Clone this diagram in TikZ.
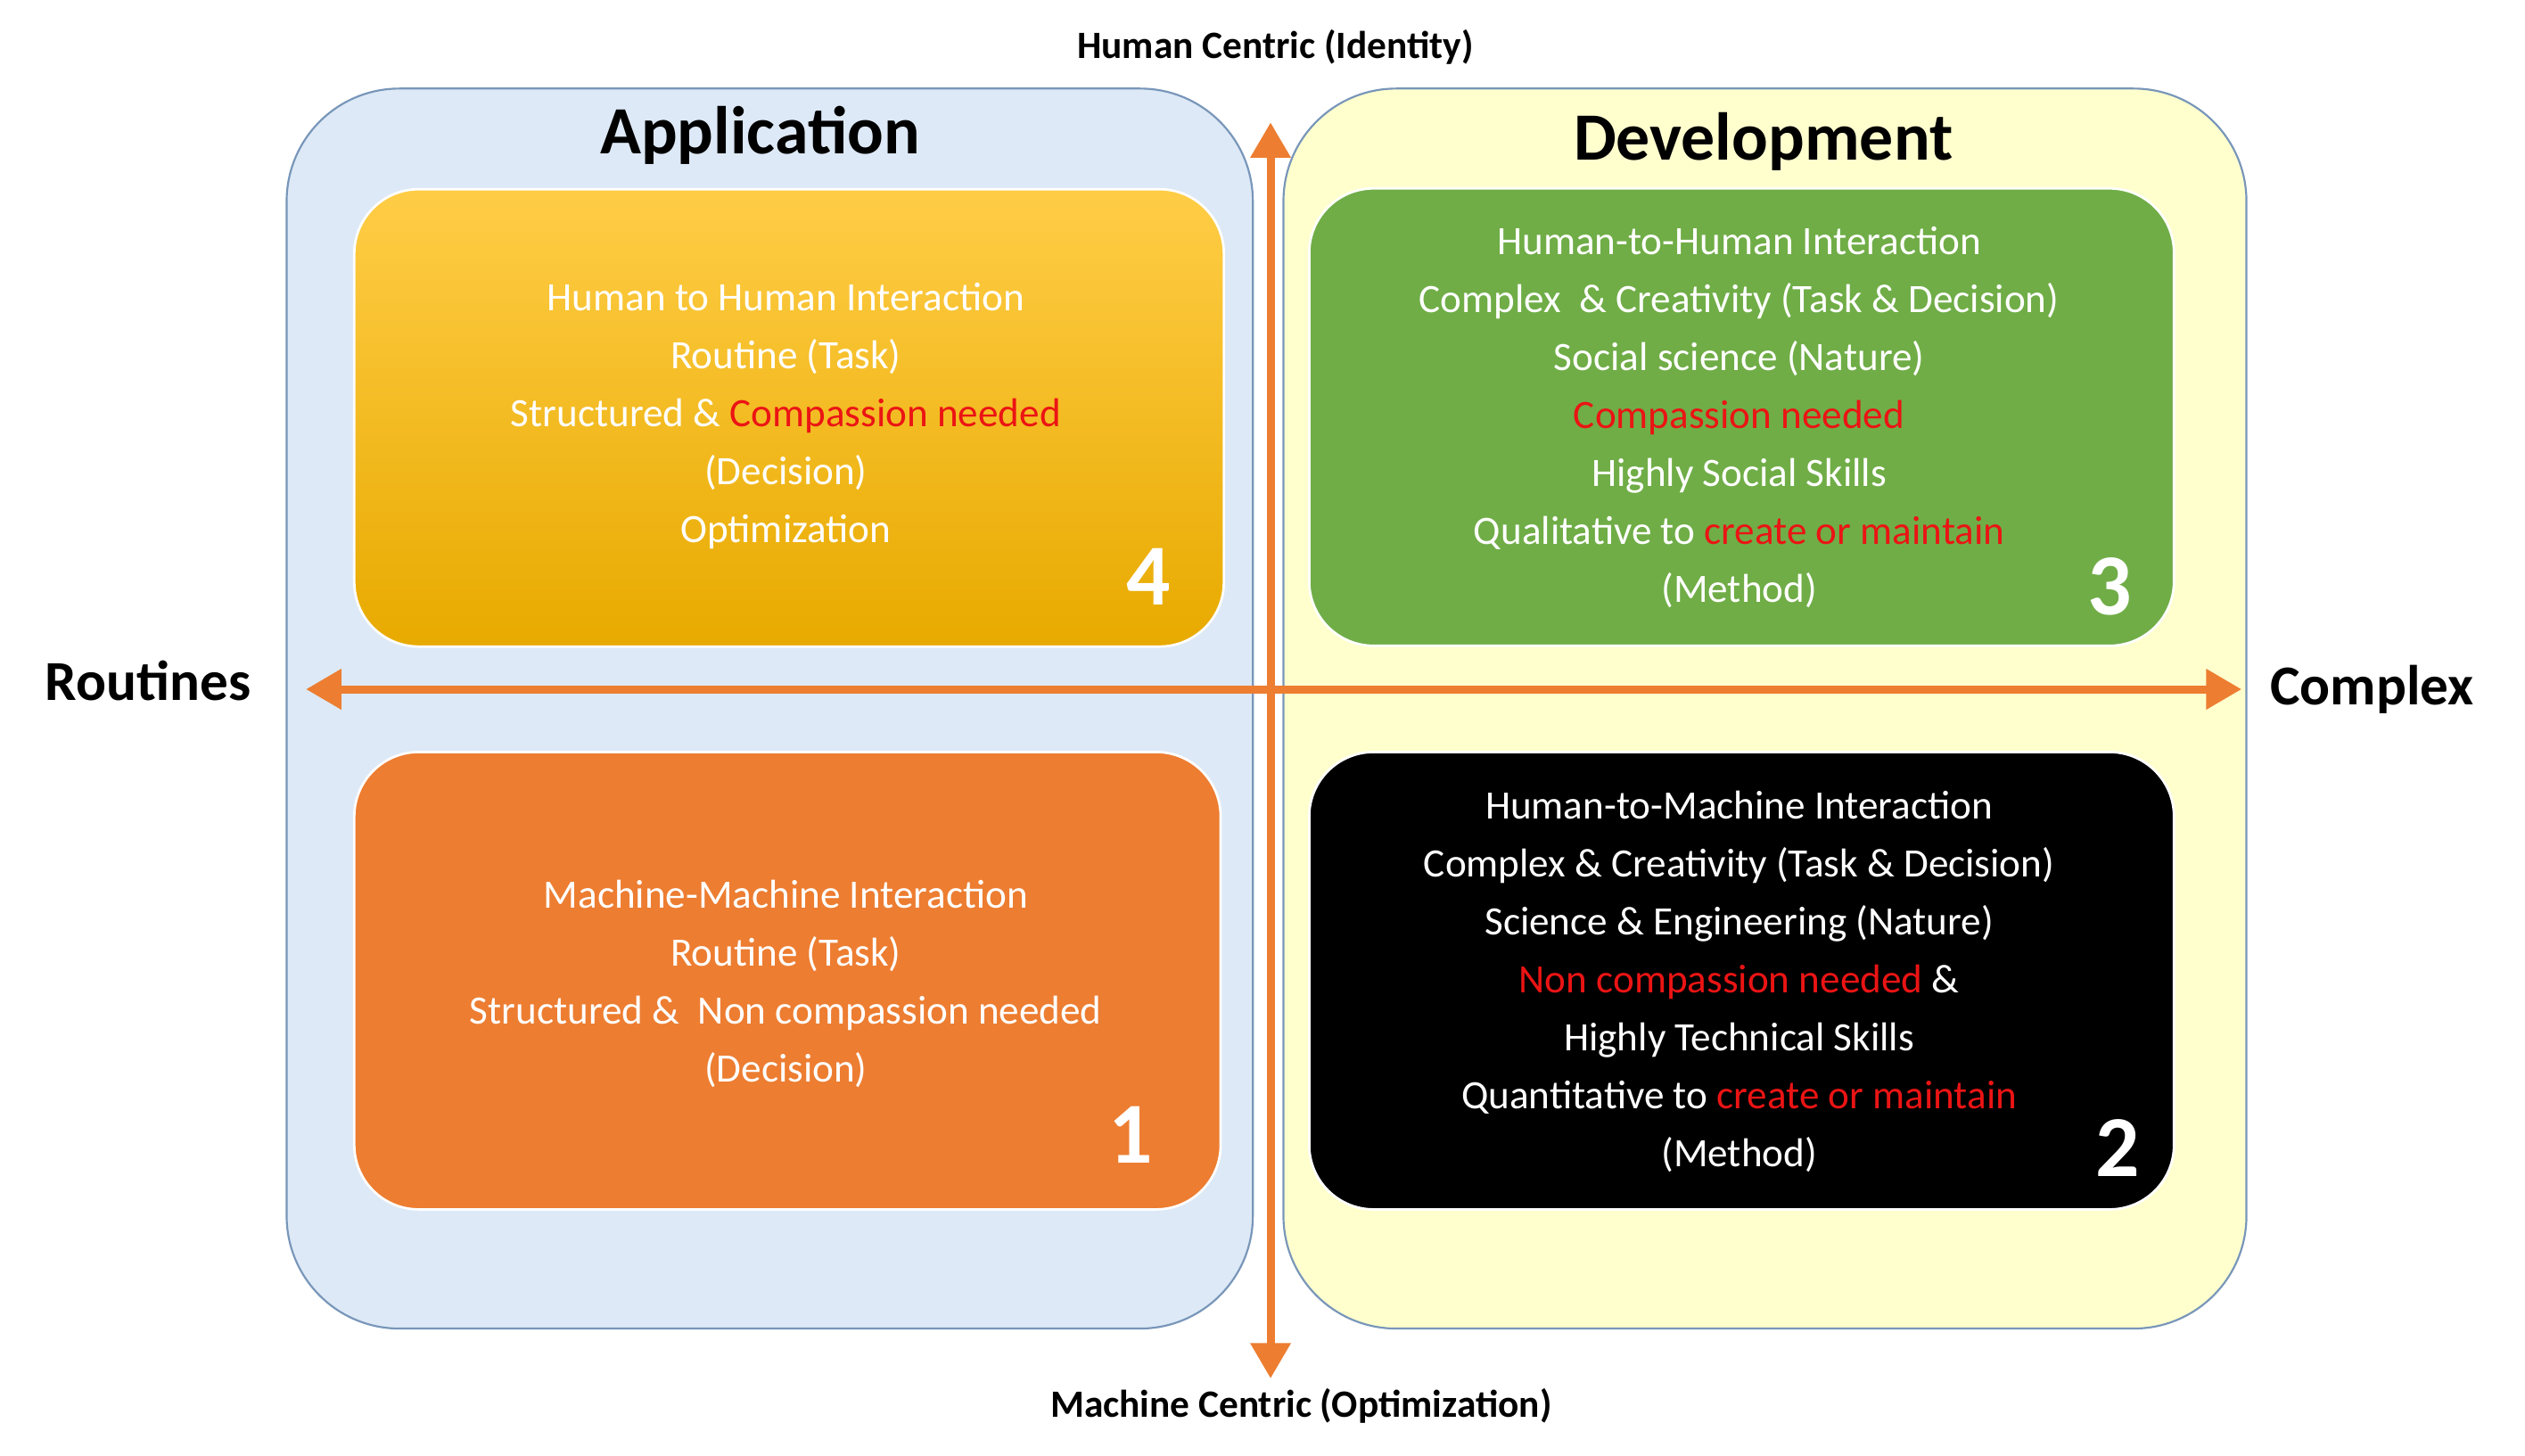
\documentclass[tikz,border=0pt]{standalone}
\usepackage{fontspec}
\setmainfont{Carlito}
\usetikzlibrary{arrows.meta}
\definecolor{panelblue}{RGB}{221,233,246}
\definecolor{panelyellow}{RGB}{255,255,206}
\definecolor{edgeblue}{RGB}{120,150,185}
\definecolor{goldtop}{RGB}{255,205,70}
\definecolor{goldbot}{RGB}{232,170,0}
\definecolor{greenbox}{RGB}{112,173,71}
\definecolor{orangebox}{RGB}{237,125,49}
\definecolor{arroworange}{RGB}{237,125,49}
\definecolor{redtxt}{RGB}{235,20,20}
\begin{document}
\begin{tikzpicture}[x=1pt,y=-1pt,
  panel/.style={draw=edgeblue,line width=1.2pt,rounded corners=70pt,minimum width=#1,minimum height=770pt},
  box/.style={rounded corners=40pt,minimum width=540pt,minimum height=284pt,draw=white,line width=1.5pt},
  body/.style={text=white,align=center,font=\fontsize{25}{36}\selectfont},
  num/.style={text=white,font=\fontsize{54}{54}\selectfont\bfseries},
  axlab/.style={font=\fontsize{24}{28}\selectfont\bfseries},
  arr/.style={draw=arroworange,line width=5pt,{Triangle[length=22pt,width=24pt]}-{Triangle[length=22pt,width=24pt]}}]
\useasboundingbox (0,0) rectangle (1568,904);
\node[panel=600pt,fill=panelblue] (pl) at (478,440) {};
\node[panel=598pt,fill=panelyellow] (pr) at (1096,440) {};
\node[font=\fontsize{42}{46}\selectfont\bfseries] (tapp) at (472,84) {Application};
\node[font=\fontsize{42}{46}\selectfont\bfseries] (tdev) at (1095,88) {Development};
\node[box,top color=goldtop,bottom color=goldbot] (b4) at (490,259.5) {};
\node[box,fill=greenbox,minimum width=537pt] (b3) at (1081.5,259) {};
\node[box,fill=orangebox,minimum width=538pt] (b1) at (489,609) {};
\node[box,fill=black,minimum width=537pt] (b2) at (1081.5,609) {};
\node[body] (t4) at (488,258.5) {Human to Human Interaction\\Routine (Task)\\Structured \& \textcolor{redtxt}{Compassion needed}\\(Decision)\\Optimization};
\node[body] (t3) at (1080,259) {Human-to-Human Interaction\\Complex\ \ \& Creativity (Task \& Decision)\\Social science (Nature)\\\textcolor{redtxt}{Compassion needed}\\Highly Social Skills\\Qualitative to \textcolor{redtxt}{create or maintain}\\(Method)};
\node[body] (t1) at (488,611) {Machine-Machine Interaction\\Routine (Task)\\Structured \&\ \ Non compassion needed\\(Decision)};
\node[body] (t2) at (1080,609.5) {Human-to-Machine Interaction\\Complex \& Creativity (Task \& Decision)\\Science \& Engineering (Nature)\\\textcolor{redtxt}{Non compassion needed} \&\\Highly Technical Skills\\Quantitative to \textcolor{redtxt}{create or maintain}\\(Method)};
\node[num] (n4) at (713,358) {4};
\node[num] (n3) at (1310,364) {3};
\node[num] (n1) at (702,705) {1};
\node[num] (n2) at (1315,713) {2};
\coordinate (vt) at (789,76);
\coordinate (vb) at (789,856);
\coordinate (hl) at (190,428);
\coordinate (hr) at (1392,428);
\draw[arr] (vb) -- (vt);
\draw[arr] (hl) -- (hr);
\node[axlab] (ltop) at (792,29) {Human Centric (Identity)};
\node[axlab] (lbot) at (808,873) {Machine Centric (Optimization)};
\node[font=\fontsize{35}{40}\selectfont\bfseries] (lleft) at (92,423) {Routines};
\node[font=\fontsize{35}{40}\selectfont\bfseries] (lright) at (1473,428) {Complex};
\end{tikzpicture}
\end{document}
